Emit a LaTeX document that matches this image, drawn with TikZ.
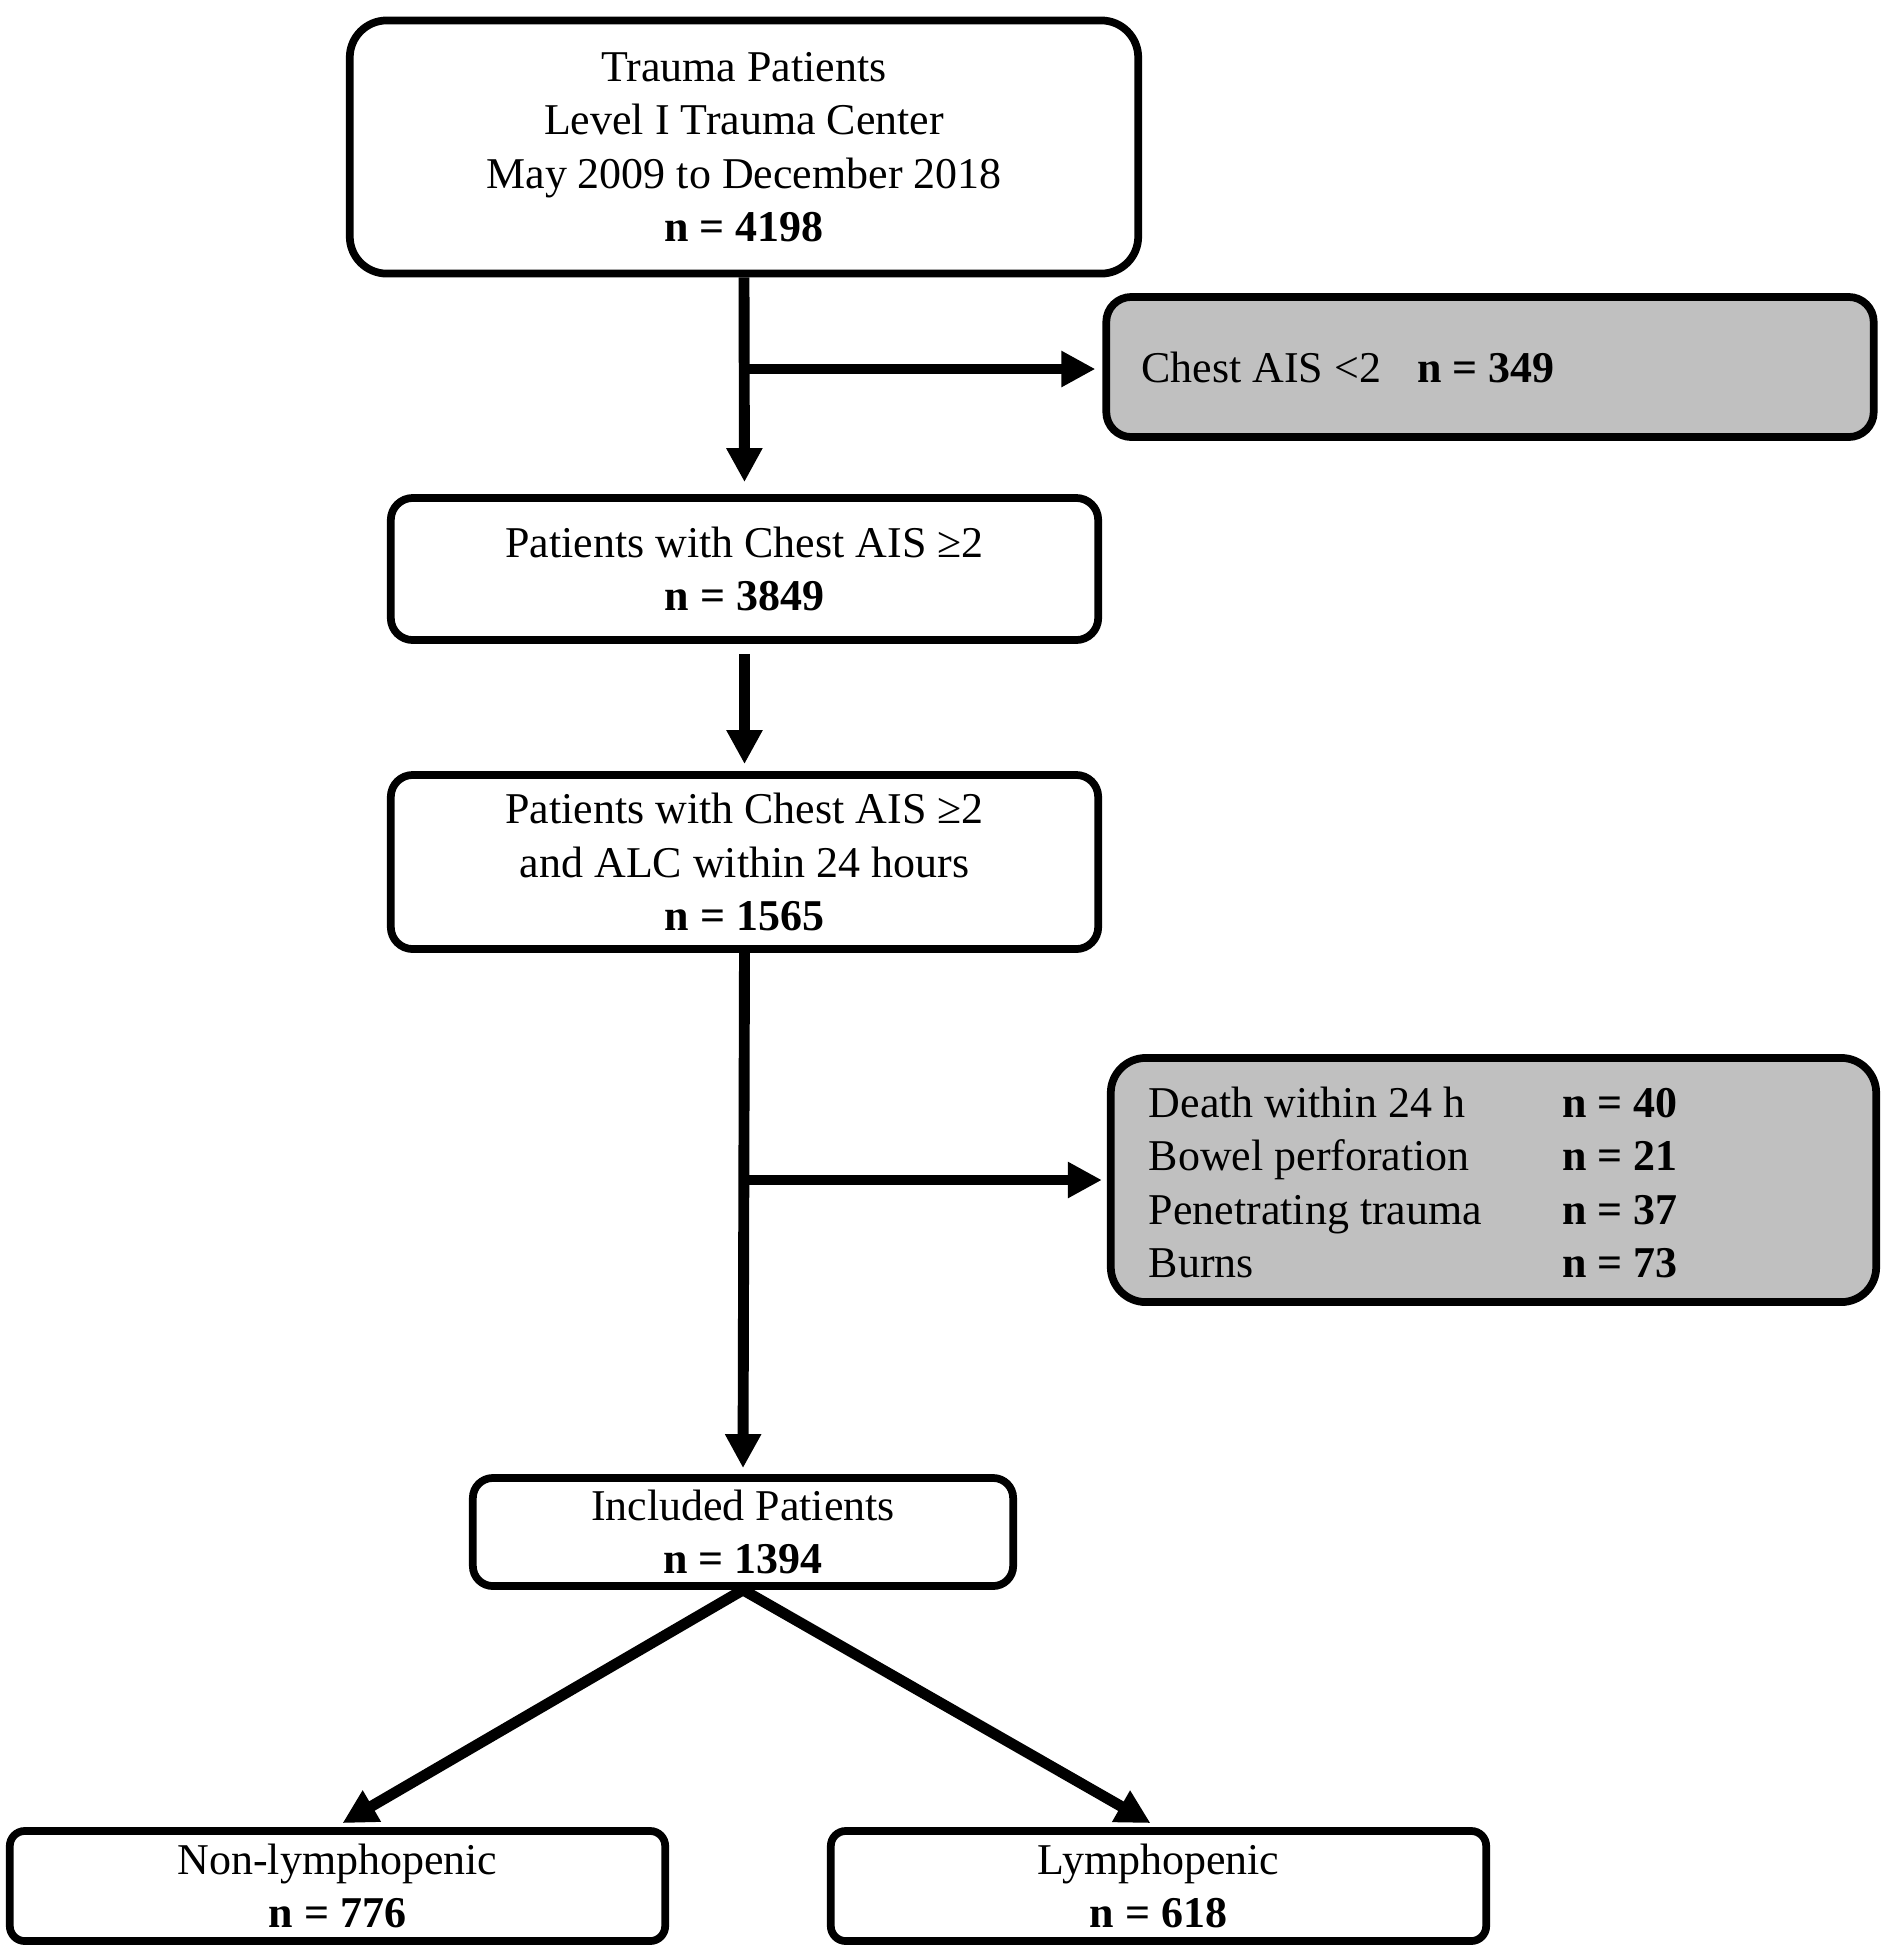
\documentclass[tikz,border=0pt]{standalone}
\usepackage{fontspec}
\setmainfont{Liberation Serif}
\usetikzlibrary{arrows.meta,calc}
\definecolor{boxgray}{RGB}{192,192,192}
\tikzset{
  box/.style={draw, line width=2.2pt, rectangle, inner sep=0pt, align=center,
    font=\fontsize{12.5}{15.2}\selectfont},
  greybox/.style={box, fill=boxgray, align=flush left},
  arr/.style={line width=3.1pt, -{Triangle[length=0.34cm,width=0.34cm]}},
  ln/.style={line width=3.1pt}
}
\begin{document}
\begin{tikzpicture}[x=0.01cm, y=-0.01cm]
\useasboundingbox (0,0) rectangle (1899,1950);

\node[box, rounded corners=0.37cm, minimum width=7.88cm, minimum height=2.53cm] (top) at (744,147)
  {Trauma Patients\\Level I Trauma Center\\May 2009 to December 2018\\\textbf{n = 4198}};

\node[greybox, rounded corners=0.25cm, text width=6.97cm, inner xsep=0.35cm, minimum height=1.40cm] (chest) at (1490,367)
  {Chest AIS <2\hspace{0.36cm}\textbf{n = 349}};

\node[box, rounded corners=0.22cm, minimum width=7.07cm, minimum height=1.42cm] (b2) at (744.5,569)
  {Patients with Chest AIS ≥2\\\textbf{n = 3849}};

\node[box, rounded corners=0.22cm, minimum width=7.07cm, minimum height=1.74cm] (b3) at (744.5,862)
  {Patients with Chest AIS ≥2\\and ALC within 24 hours\\\textbf{n = 1565}};

\node[greybox, rounded corners=0.35cm, text width=6.89cm, inner xsep=0.38cm, minimum height=2.44cm] (excl) at (1493.5,1180)
  {\raisebox{-0.07cm}[\height][\depth]{\begin{tabular}{@{}l@{}l@{}}
   \makebox[4.13cm][l]{Death within 24 h} & \textbf{n = 40}\\
   \makebox[4.13cm][l]{Bowel perforation} & \textbf{n = 21}\\
   \makebox[4.13cm][l]{Penetrating trauma} & \textbf{n = 37}\\
   \makebox[4.13cm][l]{Burns} & \textbf{n = 73}
   \end{tabular}}};

\node[box, rounded corners=0.2cm, minimum width=5.40cm, minimum height=1.08cm] (inc) at (743,1532)
  {Included Patients\\\textbf{n = 1394}};

\node[box, rounded corners=0.15cm, minimum width=6.55cm, minimum height=1.10cm] (nl) at (337.5,1886)
  {Non-lymphopenic\\\textbf{n = 776}};

\node[box, rounded corners=0.15cm, minimum width=6.55cm, minimum height=1.10cm] (ly) at (1158.5,1886)
  {Lymphopenic\\\textbf{n = 618}};

% connectors
\coordinate (j1) at (top.south |- 0,369);
\coordinate (j2) at (b3.south |- excl.west);
\draw[arr, shorten >=0.12cm] (top.south) -- (b2.north);
\draw[arr, shorten >=0.07cm] (j1) -- (chest.west |- j1);
\draw[arr, shorten <=0.1cm, shorten >=0.07cm] (b2.south) -- (b3.north);
\draw[arr, shorten >=0.06cm] (b3.south) -- (inc.north);
\draw[arr, shorten >=0.05cm] (j2) -- (excl.west);
\draw[arr] (inc.south) -- ($(nl.north)+(5,-4)$);
\draw[arr] (inc.south) -- ($(ly.north)+(-8,-4)$);
\end{tikzpicture}
\end{document}
